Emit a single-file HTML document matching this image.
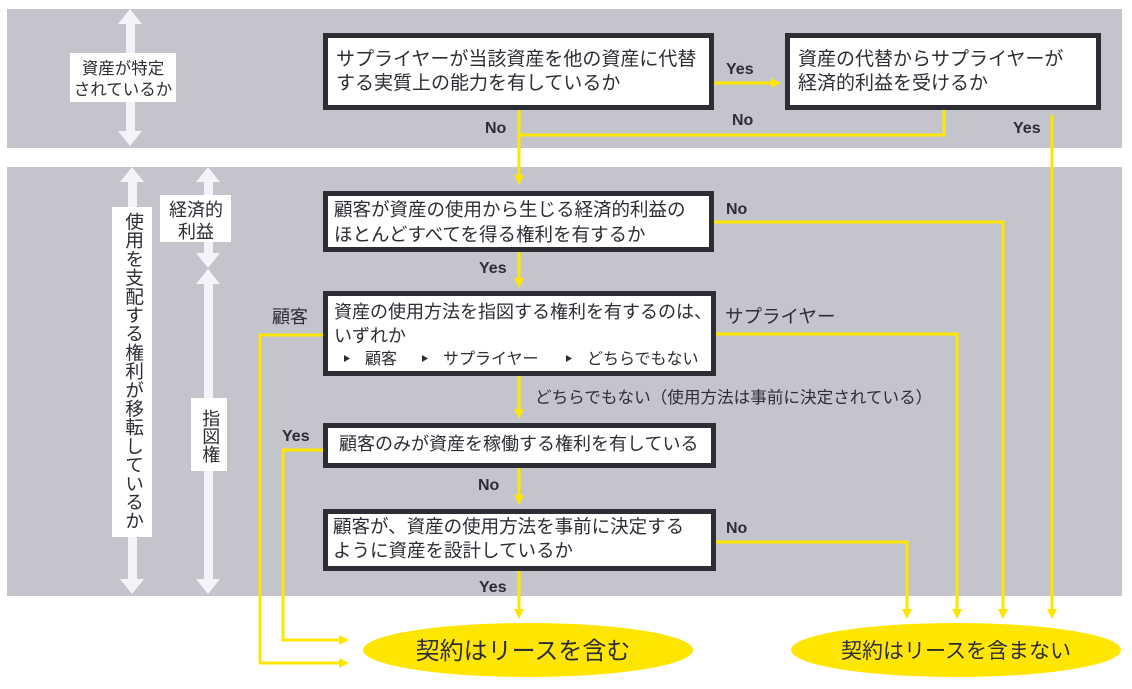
<!DOCTYPE html>
<html><head><meta charset="utf-8"><style>
body{margin:0;background:#fff}
svg{display:block}
text{font-family:"Liberation Sans","Noto Sans CJK JP",sans-serif;fill:#2d2d36}
.b{font-weight:bold}
</style></head><body>
<svg width="1132" height="689" viewBox="0 0 1132 689" xmlns="http://www.w3.org/2000/svg">
<defs>
<marker id="ya" markerWidth="10" markerHeight="10" refX="5" refY="5" orient="auto" markerUnits="userSpaceOnUse"><path d="M0,0 L10,5 L0,10 Z" fill="#ffe600"/></marker>
</defs>
<rect x="7" y="9" width="1115" height="139" fill="#c4c4cc"/>
<rect x="7" y="167" width="1115" height="429" fill="#c4c4cc"/>
<g fill="#f4f4f8">
<rect x="126" y="22" width="9" height="112"/><path d="M130,9 L142,24 L118,24Z M130,146 L142,131 L118,131Z"/>
<rect x="128" y="180" width="9" height="402"/><path d="M132,167 L144,182 L120,182Z M132,594 L144,579 L120,579Z"/>
<rect x="204" y="180" width="9" height="76"/><path d="M208,167 L220,182 L196,182Z M208,268 L220,253 L196,253Z"/>
<rect x="204" y="281" width="9" height="300"/><path d="M208,269 L220,284 L196,284Z M208,594 L220,579 L196,579Z"/>
</g>
<g fill="#fff">
<rect x="70" y="53" width="106" height="49"/>
<rect x="112" y="207" width="40" height="330"/>
<rect x="160" y="195" width="71" height="47"/>
<rect x="191" y="398" width="36" height="73"/>
</g>
<text x="123" y="74" font-size="16.5" text-anchor="middle">資産が特定</text>
<text x="123" y="95" font-size="16.5" text-anchor="middle">されているか</text>
<text x="196" y="216" font-size="18" text-anchor="middle">経済的</text>
<text x="196" y="238" font-size="18" text-anchor="middle">利益</text>
<text x="209" y="409" font-size="18" style="writing-mode:vertical-rl" dominant-baseline="middle">指図権</text>
<text x="132" y="212" font-size="18.7" style="writing-mode:vertical-rl" dominant-baseline="middle">使用を支配する権利が移転しているか</text>
<g stroke="#ffe600" stroke-width="3" fill="none">
<path d="M519,110 V180" marker-end="url(#ya)"/>
<path d="M944,110 V135 H519"/>
<path d="M714,83 H776" marker-end="url(#ya)"/>
<path d="M1052,115 V614" marker-end="url(#ya)"/>
<path d="M714,222 H1003 V614" marker-end="url(#ya)"/>
<path d="M519,252 V283" marker-end="url(#ya)"/>
<path d="M716,334 H957 V614" marker-end="url(#ya)"/>
<path d="M323,335 H260 V663 H344" marker-end="url(#ya)"/>
<path d="M519,376 V414" marker-end="url(#ya)"/>
<path d="M323,450 H283 V640 H344" marker-end="url(#ya)"/>
<path d="M519,468 V500" marker-end="url(#ya)"/>
<path d="M716,542 H907 V614" marker-end="url(#ya)"/>
<path d="M519,571 V614" marker-end="url(#ya)"/>
</g>
<g fill="#fff" stroke="#2d2d36" stroke-width="5">
<rect x="325.5" y="35.5" width="386" height="72"/>
<rect x="787.5" y="35.5" width="311" height="72"/>
<rect x="325.5" y="193.5" width="386" height="56"/>
<rect x="325.5" y="293.5" width="388" height="80"/>
<rect x="325.5" y="425.5" width="388" height="40"/>
<rect x="325.5" y="511.5" width="388" height="57"/>
</g>
<g font-size="18.5">
<text x="336" y="65" font-size="19">サプライヤーが当該資産を他の資産に代替</text>
<text x="336" y="89" font-size="19">する実質上の能力を有しているか</text>
<text x="798" y="65" font-size="19">資産の代替からサプライヤーが</text>
<text x="798" y="89" font-size="19">経済的利益を受けるか</text>
<text x="334" y="216">顧客が資産の使用から生じる経済的利益の</text>
<text x="334" y="241">ほとんどすべてを得る権利を有するか</text>
<text x="334" y="318" font-size="18">資産の使用方法を指図する権利を有するのは、</text>
<text x="334" y="342" font-size="18">いずれか</text>
<text x="339" y="450" font-size="18">顧客のみが資産を稼働する権利を有している</text>
<text x="333" y="533" font-size="18.5">顧客が、資産の使用方法を事前に決定する</text>
<text x="333" y="557" font-size="18.5">ように資産を設計しているか</text>
</g>
<g font-size="16">
<text x="365" y="364">顧客</text>
<text x="443" y="364">サプライヤー</text>
<text x="587" y="364">どちらでもない</text>
</g>
<g fill="#2d2d36"><path d="M344,355 l6,3.5 l-6,3.5Z M422,355 l6,3.5 l-6,3.5Z M566,355 l6,3.5 l-6,3.5Z"/></g>
<g font-size="16">
<text x="485" y="133" class="b">No</text>
<text x="726" y="74" class="b">Yes</text>
<text x="732" y="125" class="b">No</text>
<text x="1013" y="133" class="b">Yes</text>
<text x="726" y="214" class="b">No</text>
<text x="479" y="273" class="b">Yes</text>
<text x="282" y="441" class="b">Yes</text>
<text x="478" y="490" class="b">No</text>
<text x="726" y="533" class="b">No</text>
<text x="479" y="592" class="b">Yes</text>
</g>
<text x="272" y="323" font-size="18">顧客</text>
<text x="725" y="323" font-size="18.5">サプライヤー</text>
<text x="535" y="403" font-size="16.6">どちらでもない（使用方法は事前に決定されている）</text>
<ellipse cx="528" cy="650" rx="165" ry="27" fill="#ffe600"/>
<ellipse cx="956" cy="650" rx="165" ry="27" fill="#ffe600"/>
<text x="523" y="659" font-size="24" text-anchor="middle">契約はリースを含む</text>
<text x="956" y="658" font-size="21" text-anchor="middle">契約はリースを含まない</text>
</svg>
</body></html>
